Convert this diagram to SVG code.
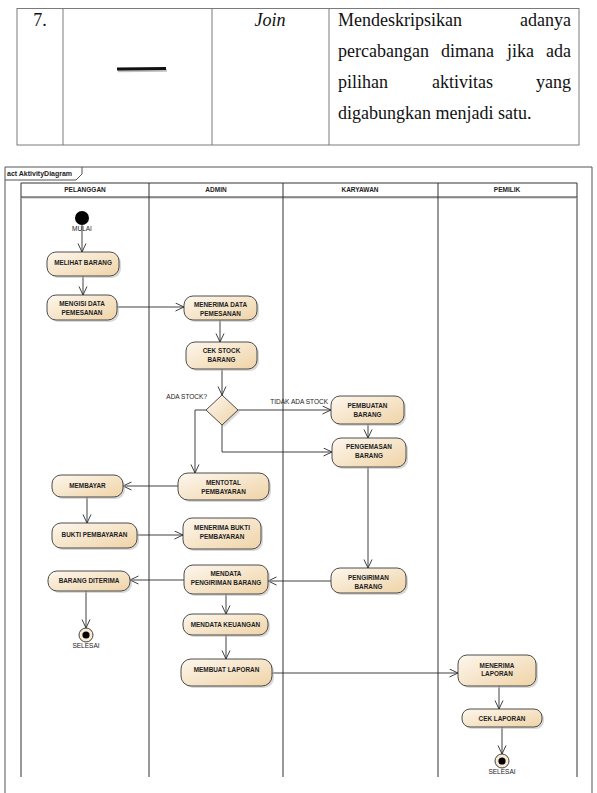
<svg xmlns="http://www.w3.org/2000/svg" width="597" height="793" viewBox="0 0 597 793">
<style>
.tb{stroke:#7a7a7a;stroke-width:1;fill:none}
.tt{font-family:"Liberation Serif","Times New Roman",serif;font-size:18px;fill:#111}
.fr{stroke:#555;stroke-width:1;fill:none}
.pl{stroke:#333;stroke-width:1;fill:none}
.hd{font-family:"Liberation Sans",Arial,sans-serif;font-size:6.5px;font-weight:bold;fill:#222;text-anchor:middle}
.nt{font-family:"Liberation Sans",Arial,sans-serif;font-size:6.4px;font-weight:bold;fill:#1e1e1e;text-anchor:middle}
.lb{font-family:"Liberation Sans",Arial,sans-serif;font-size:6.5px;fill:#222}
.nd{fill:url(#g);stroke:#3a3a3a;stroke-width:0.9}
.sh{fill:#b9b9b9;opacity:0.55}
.c{stroke:#2b2b2b;stroke-width:0.9;fill:none;marker-end:url(#a)}
</style>
<defs>
<linearGradient id="g" x1="0" y1="0" x2="1" y2="1">
<stop offset="0" stop-color="#fdf7ee"/>
<stop offset="1" stop-color="#efd3a6"/>
</linearGradient>
<marker id="a" markerWidth="10" markerHeight="10" refX="9" refY="4.5" orient="auto" markerUnits="userSpaceOnUse">
<path d="M0.5,0.5 L9,4.5 L0.5,8.5" fill="none" stroke="#2b2b2b" stroke-width="0.9"/>
</marker>
</defs>
<rect width="597" height="793" fill="#fff"/>

<g id="table">
<rect class="tb" x="17" y="8.5" width="562" height="136.5"/>
<line class="tb" x1="63" y1="8.5" x2="63" y2="145"/>
<line class="tb" x1="212" y1="8.5" x2="212" y2="145"/>
<line class="tb" x1="329" y1="8.5" x2="329" y2="145"/>
<text class="tt" x="40" y="26" text-anchor="middle">7.</text>
<line x1="118" y1="71" x2="167" y2="70.5" stroke="#999" stroke-width="2.5" opacity="0.6"/>
<line x1="117" y1="69" x2="166" y2="68.5" stroke="#111" stroke-width="3"/>
<text class="tt" x="270" y="26" text-anchor="middle" font-style="italic">Join</text>
<text class="tt" x="338" y="26">Mendeskripsikan</text>
<text class="tt" x="571" y="26" text-anchor="end">adanya</text>
<text class="tt" x="338" y="57">percabangan</text>
<text class="tt" x="441" y="57">dimana</text>
<text class="tt" x="507" y="57">jika</text>
<text class="tt" x="571" y="57" text-anchor="end">ada</text>
<text class="tt" x="338" y="88">pilihan</text>
<text class="tt" x="432" y="88">aktivitas</text>
<text class="tt" x="571" y="88" text-anchor="end">yang</text>
<text class="tt" x="338" y="119">digabungkan menjadi satu.</text>
</g>

<g id="frame">
<path class="fr" d="M5,793 V167 H592 V793"/>
<path class="fr" d="M5,180 H76 L82,174 V167"/>
<text x="7" y="176" font-family="Liberation Sans,Arial,sans-serif" font-size="7" font-weight="bold" fill="#222">act AktivityDiagram</text>
</g>

<g id="pool">
<path class="pl" d="M21,777 V183 H577 V777"/>
<line x1="21" y1="198" x2="577" y2="198" stroke="#bbb" stroke-width="1"/>
<line class="pl" x1="21" y1="197" x2="577" y2="197" stroke-width="1.2"/>
<line class="pl" x1="149" y1="183" x2="149" y2="777"/>
<line class="pl" x1="283" y1="183" x2="283" y2="777"/>
<line class="pl" x1="438" y1="183" x2="438" y2="777"/>
<text class="hd" x="85" y="192">PELANGGAN</text>
<text class="hd" x="216" y="192">ADMIN</text>
<text class="hd" x="360" y="192">KARYAWAN</text>
<text class="hd" x="507" y="192">PEMILIK</text>
</g>

<g id="connectors">
<path class="c" d="M82,225 V252"/>
<path class="c" d="M83,276 V295"/>
<path class="c" d="M117,307 H184"/>
<path class="c" d="M220,320 V342"/>
<path class="c" d="M222,369 V395"/>
<path class="c" d="M206,410 H195 V473"/>
<path class="c" d="M238,410 H331"/>
<path class="c" d="M222,425 V452 H332"/>
<path class="c" d="M368,424 V438"/>
<path class="c" d="M368,467 V568"/>
<path class="c" d="M178,486 H123"/>
<path class="c" d="M87,497 V523"/>
<path class="c" d="M137,535 H183"/>
<path class="c" d="M331,581 H268"/>
<path class="c" d="M184,580 H130"/>
<path class="c" d="M86,591 V628"/>
<path class="c" d="M226,594 V614"/>
<path class="c" d="M226,635 V659"/>
<path class="c" d="M272,673 H458"/>
<path class="c" d="M499,686 V709"/>
<path class="c" d="M502,727 V754"/>
<text class="lb" x="207" y="399" text-anchor="end">ADA STOCK?</text>
<text class="lb" x="328" y="404" text-anchor="end">TIDAK ADA STOCK</text>
</g>

<g id="mulai">
<circle cx="82" cy="218" r="7" fill="#000"/>
<text class="lb" x="82" y="231" text-anchor="middle">MULAI</text>
</g>

<g id="melihat-barang">
<rect class="sh" x="49" y="254" width="72" height="24" rx="9"/>
<rect class="nd" x="47" y="252" width="72" height="24" rx="9"/>
<text class="nt" x="83" y="264.5">MELIHAT BARANG</text>
</g>

<g id="mengisi-data">
<rect class="sh" x="49" y="297" width="70" height="25" rx="9"/>
<rect class="nd" x="47" y="295" width="70" height="25" rx="9"/>
<text class="nt" x="82" y="306.3">MENGISI DATA</text>
<text class="nt" x="82" y="315.3">PEMESANAN</text>
</g>

<g id="menerima-data">
<rect class="sh" x="186" y="298" width="73" height="24" rx="9"/>
<rect class="nd" x="184" y="296" width="73" height="24" rx="9"/>
<text class="nt" x="220.5" y="307">MENERIMA DATA</text>
<text class="nt" x="220.5" y="316">PEMESANAN</text>
</g>

<g id="cek-stock">
<rect class="sh" x="188" y="344" width="71" height="27" rx="9"/>
<rect class="nd" x="186" y="342" width="71" height="27" rx="9"/>
<text class="nt" x="221.5" y="353.3">CEK STOCK</text>
<text class="nt" x="221.5" y="361.5">BARANG</text>
</g>

<g id="decision">
<path class="sh" d="M224,397 L240,412 L224,427 L208,412 Z"/>
<path class="nd" d="M222,395 L238,410 L222,425 L206,410 Z"/>
</g>

<g id="pembuatan-barang">
<rect class="sh" x="333" y="398" width="73" height="28" rx="9"/>
<rect class="nd" x="331" y="396" width="73" height="28" rx="9"/>
<text class="nt" x="367.5" y="408.3">PEMBUATAN</text>
<text class="nt" x="367.5" y="416.5">BARANG</text>
</g>

<g id="pengemasan-barang">
<rect class="sh" x="334" y="440" width="74" height="29" rx="9"/>
<rect class="nd" x="332" y="438" width="74" height="29" rx="9"/>
<text class="nt" x="369" y="449.3">PENGEMASAN</text>
<text class="nt" x="369" y="458.3">BARANG</text>
</g>

<g id="mentotal-pembayaran">
<rect class="sh" x="180" y="475" width="91" height="27" rx="10"/>
<rect class="nd" x="178" y="473" width="91" height="27" rx="10"/>
<text class="nt" x="223.5" y="485.3">MENTOTAL</text>
<text class="nt" x="223.5" y="494.3">PEMBAYARAN</text>
</g>

<g id="membayar">
<rect class="sh" x="54" y="477" width="71" height="22" rx="9"/>
<rect class="nd" x="52" y="475" width="71" height="22" rx="9"/>
<text class="nt" x="87.5" y="488.3">MEMBAYAR</text>
</g>

<g id="bukti-pembayaran">
<rect class="sh" x="54" y="525" width="85" height="25" rx="9"/>
<rect class="nd" x="52" y="523" width="85" height="25" rx="9"/>
<text class="nt" x="94.5" y="537.3">BUKTI PEMBAYARAN</text>
</g>

<g id="menerima-bukti">
<rect class="sh" x="185" y="520" width="78" height="31" rx="9"/>
<rect class="nd" x="183" y="518" width="78" height="31" rx="9"/>
<text class="nt" x="222" y="530.3">MENERIMA BUKTI</text>
<text class="nt" x="222" y="539.3">PEMBAYARAN</text>
</g>

<g id="pengiriman-barang">
<rect class="sh" x="333" y="570" width="75" height="25" rx="9"/>
<rect class="nd" x="331" y="568" width="75" height="25" rx="9"/>
<text class="nt" x="368.5" y="580.3">PENGIRIMAN</text>
<text class="nt" x="368.5" y="588.5">BARANG</text>
</g>

<g id="mendata-pengiriman">
<rect class="sh" x="186" y="567" width="84" height="29" rx="9"/>
<rect class="nd" x="184" y="565" width="84" height="29" rx="9"/>
<text class="nt" x="226" y="576.3">MENDATA</text>
<text class="nt" x="226" y="585.3">PENGIRIMAN BARANG</text>
</g>

<g id="barang-diterima">
<rect class="sh" x="50" y="573" width="82" height="20" rx="9"/>
<rect class="nd" x="48" y="571" width="82" height="20" rx="9"/>
<text class="nt" x="89" y="582.8">BARANG DITERIMA</text>
</g>

<g id="selesai-1">
<circle cx="86" cy="635" r="7" fill="#f8ead4" stroke="#333" stroke-width="0.9"/>
<circle cx="86" cy="635" r="3.6" fill="#000"/>
<text class="lb" x="86" y="648" text-anchor="middle">SELESAI</text>
</g>

<g id="mendata-keuangan">
<rect class="sh" x="185" y="616" width="85" height="21" rx="9"/>
<rect class="nd" x="183" y="614" width="85" height="21" rx="9"/>
<text class="nt" x="225.5" y="626.5">MENDATA KEUANGAN</text>
</g>

<g id="membuat-laporan">
<rect class="sh" x="183" y="661" width="91" height="27" rx="10"/>
<rect class="nd" x="181" y="659" width="91" height="27" rx="10"/>
<text class="nt" x="226.5" y="671.5">MEMBUAT LAPORAN</text>
</g>

<g id="menerima-laporan">
<rect class="sh" x="460" y="657" width="78" height="31" rx="9"/>
<rect class="nd" x="458" y="655" width="78" height="31" rx="9"/>
<text class="nt" x="497" y="668.3">MENERIMA</text>
<text class="nt" x="497" y="676.3">LAPORAN</text>
</g>

<g id="cek-laporan">
<rect class="sh" x="464" y="711" width="80" height="18" rx="8"/>
<rect class="nd" x="462" y="709" width="80" height="18" rx="8"/>
<text class="nt" x="502" y="720.5">CEK LAPORAN</text>
</g>

<g id="selesai-2">
<circle cx="502" cy="761" r="7" fill="#f8ead4" stroke="#333" stroke-width="0.9"/>
<circle cx="502" cy="761" r="3.6" fill="#000"/>
<text class="lb" x="502" y="774" text-anchor="middle">SELESAI</text>
</g>
</svg>
